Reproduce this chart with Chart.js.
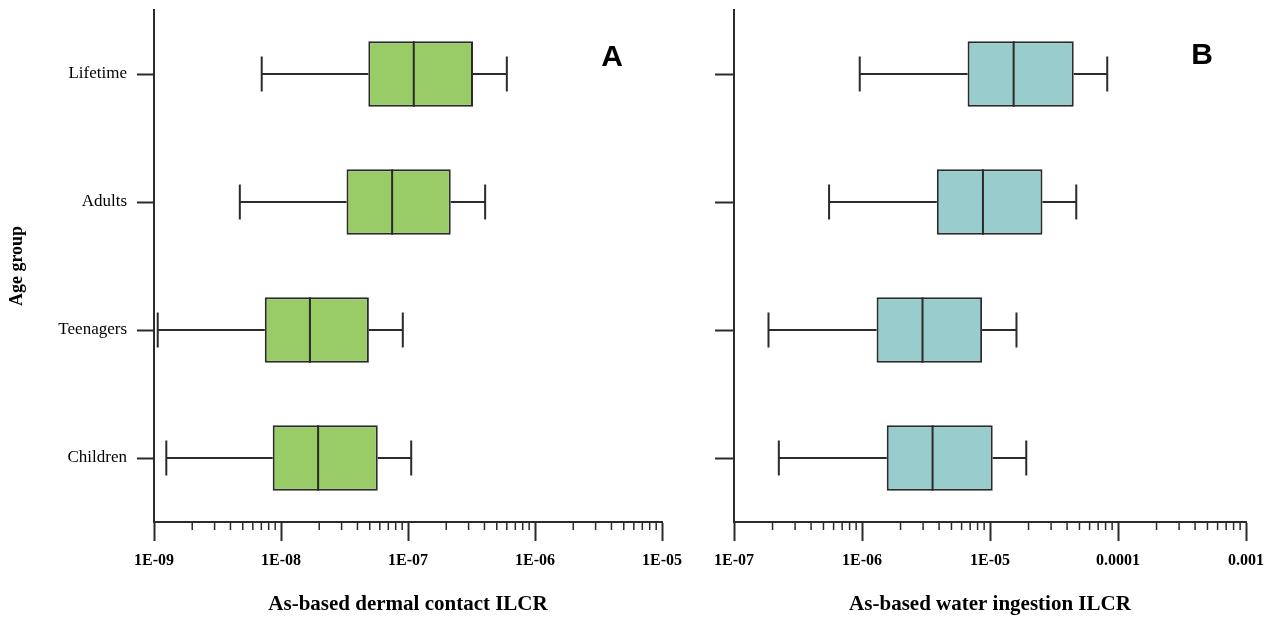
<!DOCTYPE html>
<html>
<head>
<meta charset="utf-8">
<script src="https://cdn.jsdelivr.net/npm/chart.js@4.4.1/dist/chart.umd.min.js"></script>
<style>
  html, body { margin: 0; padding: 0; background: #ffffff; }
  body { width: 1274px; height: 617px; position: relative; overflow: hidden; }
  .wrap { position: absolute; top: 0; height: 617px; }
  #wa { left: 0; width: 690px; }
  #wb { left: 690px; width: 584px; }
</style>
</head>
<body>
<div class="wrap" id="wa"><canvas id="ca"></canvas></div>
<div class="wrap" id="wb"><canvas id="cb"></canvas></div>
<script>
// ---- data ----
const categories = ["Lifetime", "Adults", "Teenagers", "Children"];

// Panel A: As-based dermal contact ILCR
const dermalMin    = [7.05e-9, 4.74e-9, 1.07e-9, 1.25e-9];
const dermalQ1     = [4.87e-8, 3.28e-8, 7.45e-9, 8.6e-9];
const dermalMedian = [1.11e-7, 7.5e-8, 1.69e-8, 1.96e-8];
const dermalQ3     = [3.25e-7, 2.17e-7, 4.92e-8, 5.78e-8];
const dermalMax    = [6.0e-7, 4.05e-7, 9.1e-8, 1.06e-7];

// Panel B: As-based water ingestion ILCR
const waterMin    = [9.6e-7, 5.53e-7, 1.86e-7, 2.24e-7];
const waterQ1     = [6.68e-6, 3.84e-6, 1.30e-6, 1.56e-6];
const waterMedian = [1.53e-5, 8.81e-6, 2.97e-6, 3.56e-6];
const waterQ3     = [4.51e-5, 2.57e-5, 8.68e-6, 1.05e-5];
const waterMax    = [8.24e-5, 4.72e-5, 1.61e-5, 1.92e-5];

const dermalTicks = [1e-9, 1e-8, 1e-7, 1e-6, 1e-5];
const dermalTickLabels = ["1E-09", "1E-08", "1E-07", "1E-06", "1E-05"];
const waterTicks = [1e-7, 1e-6, 1e-5, 1e-4, 1e-3];
const waterTickLabels = ["1E-07", "1E-06", "1E-05", "0.0001", "0.001"];

const INK = "#2b2b2b";
const SERIF = "'Liberation Serif', 'Times New Roman', serif";

// plugin: whiskers, medians, minor ticks, panel letter
const boxPlugin = {
  id: "boxExtras",
  afterDatasetsDraw(chart, args, opts) {
    const ctx = chart.ctx;
    const xs = chart.scales.x, ys = chart.scales.y;
    const meta = chart.getDatasetMeta(0);
    ctx.save();
    ctx.strokeStyle = INK;
    ctx.lineWidth = 2;
    ctx.lineCap = "butt";
    categories.forEach((c, i) => {
      const y = ys.getPixelForValue(i);
      const bar = meta.data[i];
      const h = bar.height;
      const pMin = xs.getPixelForValue(opts.min[i]);
      const pQ1 = xs.getPixelForValue(opts.q1[i]);
      const pMed = xs.getPixelForValue(opts.median[i]);
      const pQ3 = xs.getPixelForValue(opts.q3[i]);
      const pMax = xs.getPixelForValue(opts.max[i]);
      const cap = 17.5;
      ctx.beginPath();
      ctx.moveTo(pMin, y); ctx.lineTo(pQ1, y);
      ctx.moveTo(pQ3, y); ctx.lineTo(pMax, y);
      ctx.moveTo(pMin, y - cap); ctx.lineTo(pMin, y + cap);
      ctx.moveTo(pMax, y - cap); ctx.lineTo(pMax, y + cap);
      ctx.moveTo(pMed, y - h / 2); ctx.lineTo(pMed, y + h / 2);
      ctx.stroke();
    });
    // minor ticks on log axis
    const lo = Math.round(Math.log10(xs.min)), hi = Math.round(Math.log10(xs.max));
    const yb = chart.chartArea.bottom;
    ctx.lineWidth = 1.5;
    ctx.beginPath();
    for (let e = lo; e < hi; e++) {
      for (let k = 2; k <= 9; k++) {
        const px = xs.getPixelForValue(k * Math.pow(10, e));
        ctx.moveTo(px, yb); ctx.lineTo(px, yb + 8);
      }
    }
    ctx.stroke();
    // panel letter
    ctx.fillStyle = "#000";
    ctx.font = "bold 30px 'Liberation Sans', Arial, sans-serif";
    ctx.textAlign = "center";
    ctx.textBaseline = "middle";
    ctx.fillText(opts.letter, opts.letterX, opts.letterY);
    ctx.restore();
  }
};

function makeChart(canvasId, cfg) {
  const floating = categories.map((c, i) => [cfg.q1[i], cfg.q3[i]]);
  return new Chart(document.getElementById(canvasId), {
    type: "bar",
    data: {
      labels: categories,
      datasets: [{
        data: floating,
        backgroundColor: cfg.fill,
        borderColor: INK,
        borderWidth: 2,
        borderSkipped: false,
        categoryPercentage: 1.0,
        barPercentage: 0.51
      }]
    },
    options: {
      indexAxis: "y",
      responsive: true,
      maintainAspectRatio: false,
      animation: false,
      events: [],
      layout: { padding: { top: 10, right: cfg.padRight, bottom: 0, left: 0 } },
      plugins: {
        legend: { display: false },
        tooltip: { enabled: false },
        boxExtras: {
          min: cfg.min, q1: cfg.q1, median: cfg.median, q3: cfg.q3, max: cfg.max,
          letter: cfg.letter, letterX: cfg.letterX, letterY: cfg.letterY
        }
      },
      scales: {
        x: {
          type: "logarithmic",
          min: cfg.ticks[0],
          max: cfg.ticks[cfg.ticks.length - 1],
          afterBuildTicks(scale) { scale.ticks = cfg.ticks.map(v => ({ value: v, major: true })); },
          afterFit(scale) { scale.height = 95; scale.paddingLeft = 0; scale.paddingRight = 0; },
          grid: { display: true, drawOnChartArea: false, drawTicks: true, tickLength: 19, tickWidth: 2, tickColor: INK },
          border: { display: true, color: INK, width: 2 },
          ticks: {
            autoSkip: false,
            maxRotation: 0,
            padding: 10,
            color: "#000",
            font: { family: SERIF, size: 16, weight: "bold" },
            callback: (v, idx) => cfg.tickLabels[idx]
          },
          title: {
            display: true,
            text: cfg.xTitle,
            color: "#000",
            font: { family: SERIF, size: 21, weight: "bold" },
            padding: { top: 0, bottom: 0 }
          }
        },
        y: {
          type: "category",
          offset: true,
          afterFit(scale) { scale.width = cfg.yWidth; scale.paddingTop = 0; scale.paddingBottom = 0; },
          grid: { display: true, offset: false, drawOnChartArea: false, drawTicks: true, tickLength: cfg.yTickLen, tickWidth: 2, tickColor: INK },
          border: { display: true, color: INK, width: 2 },
          ticks: {
            display: cfg.showLabels,
            padding: 10,
            color: "#000",
            font: { family: SERIF, size: 17 }
          },
          title: {
            display: cfg.showYTitle,
            text: "Age group",
            color: "#000",
            font: { family: SERIF, size: 18, weight: "bold" },
            padding: { top: 7, bottom: 0 }
          }
        }
      }
    },
    plugins: [boxPlugin]
  });
}

makeChart("ca", {
  min: dermalMin, q1: dermalQ1, median: dermalMedian, q3: dermalQ3, max: dermalMax,
  ticks: dermalTicks, tickLabels: dermalTickLabels,
  fill: "#99cc66", xTitle: "As-based dermal contact ILCR",
  yWidth: 154, yTickLen: 17, padRight: 28, showLabels: true, showYTitle: true,
  letter: "A", letterX: 612, letterY: 58
});

makeChart("cb", {
  min: waterMin, q1: waterQ1, median: waterMedian, q3: waterQ3, max: waterMax,
  ticks: waterTicks, tickLabels: waterTickLabels,
  fill: "#99cccc", xTitle: "As-based water ingestion ILCR",
  yWidth: 44, yTickLen: 19, padRight: 28, showLabels: false, showYTitle: false,
  letter: "B", letterX: 512, letterY: 56
});
</script>
</body>
</html>
